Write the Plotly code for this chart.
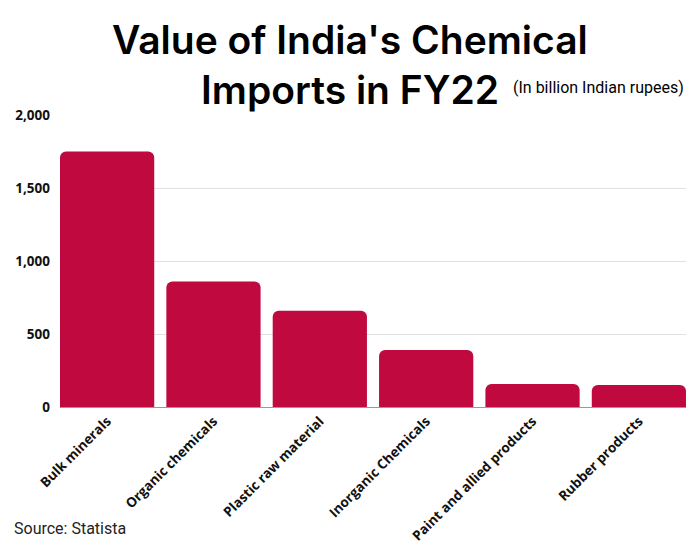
import plotly.graph_objects as go

categories = ["Bulk minerals", "Organic chemicals", "Plastic raw material",
              "Inorganic Chemicals", "Paint and allied products", "Rubber products"]
values = [1750, 860, 660, 390, 158, 150]
y_ticks = [0, 500, 1000, 1500, 2000]
y_tick_labels = ["0", "500", "1,000", "1,500", "2,000"]

# page body has an 8px margin, so the figure is sized/offset to compensate
OFF = 8
W, H = 700 - OFF, 550 - OFF
L, R, T, B = 60 - OFF, 14, 115 - OFF, 143
PW, PH = W - L - R, H - T - B
GAP = 0.114


def px(x):
    return (x - OFF - L) / PW


def py(y):
    return (H - B - (y - OFF)) / PH


fig = go.Figure(go.Bar(
    x=categories, y=values,
    marker=dict(color="#c0093f", cornerradius=6, line=dict(width=0)),
))

fig.update_layout(
    width=W, height=H,
    paper_bgcolor="white", plot_bgcolor="white",
    margin=dict(l=L, r=R, t=T, b=B, autoexpand=False),
    bargap=GAP,
    showlegend=False,
    font=dict(family="Open Sans", color="#111"),
    xaxis=dict(tickangle=-45, tickfont=dict(family="Open Sans", size=13.5, color="#111", weight="bold"),
               range=[-0.5 + GAP / 2, len(categories) - 0.5 - GAP / 2],
               showline=True, linecolor="#999", linewidth=1, ticks="", automargin=False),
    yaxis=dict(range=[0, 2000], tickvals=y_ticks, ticktext=y_tick_labels,
               tickfont=dict(family="Open Sans", size=13.5, color="#111", weight="bold"),
               showgrid=True, gridcolor="#e0e0e0", zeroline=False, ticks="",
               ticklabelstandoff=9, automargin=False),
)

TITLE_FONT = dict(family="Inter, Noto Sans", size=39, color="#000", weight=600)
fig.add_annotation(text="Value of India's Chemical", xref="paper", yref="paper",
                   x=px(350), y=py(39), xanchor="center", yanchor="middle",
                   showarrow=False, font=TITLE_FONT)
fig.add_annotation(text="Imports in FY22", xref="paper", yref="paper",
                   x=px(350), y=py(89), xanchor="center", yanchor="middle",
                   showarrow=False, font=TITLE_FONT)
fig.add_annotation(text="(In billion Indian rupees)", xref="paper", yref="paper",
                   x=px(686), y=py(88), xanchor="right", yanchor="middle",
                   showarrow=False, font=dict(family="Roboto", size=16, color="#000"))
fig.add_annotation(text="Source: Statista", xref="paper", yref="paper",
                   x=px(12), y=py(528), xanchor="left", yanchor="middle",
                   showarrow=False, font=dict(family="Roboto", size=16, color="#222"))

fig.write_html("out.html")
